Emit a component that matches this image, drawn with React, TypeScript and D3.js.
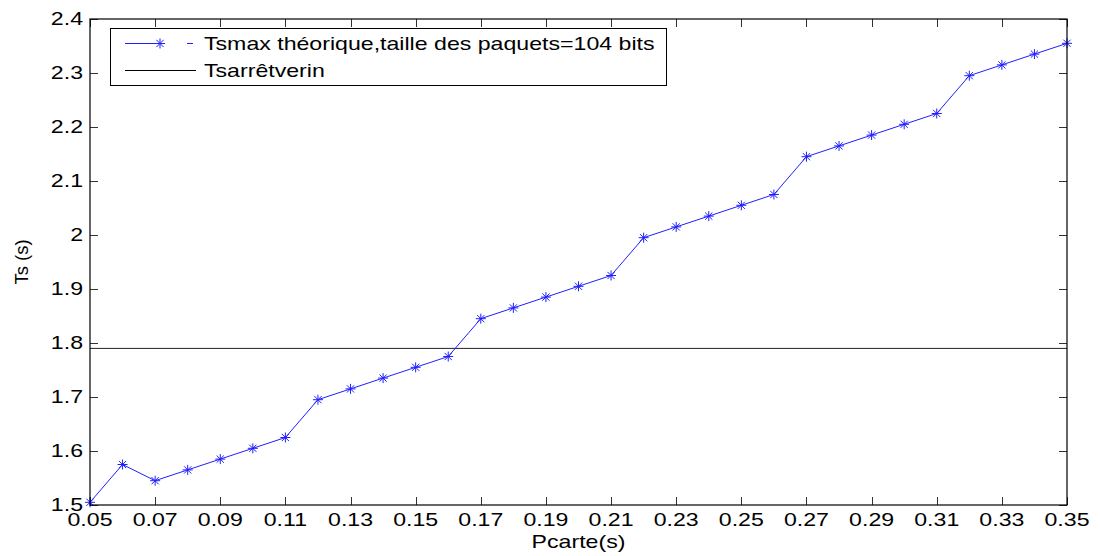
import { useRef, useEffect } from "react";
import * as d3 from "d3";

// Pcarte (s)
const pcarte = [
  0.05, 0.06, 0.07, 0.08, 0.09, 0.1, 0.11, 0.12, 0.13, 0.14, 0.15, 0.16, 0.17,
  0.18, 0.19, 0.2, 0.21, 0.22, 0.23, 0.24, 0.25, 0.26, 0.27, 0.28, 0.29, 0.3,
  0.31, 0.32, 0.33, 0.34, 0.35,
];
// Tsmax théorique (s)
const tsmax = [
  1.505, 1.575, 1.545, 1.565, 1.585, 1.605, 1.625, 1.695, 1.715, 1.735, 1.755,
  1.775, 1.845, 1.865, 1.885, 1.905, 1.925, 1.995, 2.015, 2.035, 2.055, 2.075,
  2.145, 2.165, 2.185, 2.205, 2.225, 2.295, 2.315, 2.335, 2.355,
];
const tsArretVerin = 1.79;

const xTicks = [
  0.05, 0.07, 0.09, 0.11, 0.13, 0.15, 0.17, 0.19, 0.21, 0.23, 0.25, 0.27, 0.29,
  0.31, 0.33, 0.35,
];
const yTicks = [1.5, 1.6, 1.7, 1.8, 1.9, 2.0, 2.1, 2.2, 2.3, 2.4];
const legendLabels = [
  "Tsmax théorique,taille des paquets=104 bits",
  "Tsarrêtverin",
];

export default function App() {
  const chartRef = useRef<HTMLDivElement>(null);

  useEffect(() => {
    if (!chartRef.current) return;
    d3.select(chartRef.current).selectAll("*").remove();

    const width = 1100;
    const height = 556;
    const margin = { top: 19, right: 33, bottom: 51, left: 90 };
    const font = "Arial, 'Liberation Sans', sans-serif";
    const fs = 18.5;
    const sx = 1.25; // text in the picture is stretched sideways
    const blue = "#1f1fff";
    const tickLen = 8;

    const svg = d3
      .select(chartRef.current)
      .append("svg")
      .attr("width", width)
      .attr("height", height)
      .style("position", "absolute")
      .style("left", "0px")
      .style("top", "0px")
      .style("background", "#fff");

    const x = d3
      .scaleLinear()
      .domain([0.05, 0.35])
      .range([margin.left, width - margin.right]);
    const y = d3
      .scaleLinear()
      .domain([1.5, 2.4])
      .range([height - margin.bottom, margin.top]);

    const x0 = x.range()[0];
    const x1 = x.range()[1];
    const y0 = y.range()[0];
    const y1 = y.range()[1];

    const addText = (
      g: d3.Selection<any, unknown, null, undefined>,
      tx: number,
      ty: number,
      str: string,
      anchor: string
    ) =>
      g
        .append("text")
        .attr("transform", `translate(${tx},${ty}) scale(${sx},1)`)
        .attr("text-anchor", anchor)
        .attr("font-family", font)
        .attr("font-size", fs)
        .attr("fill", "#000")
        .text(str);

    // ticks (inward, all four sides)
    const ticks = svg.append("g").attr("stroke", "#333").attr("stroke-width", 1);
    xTicks.forEach((t) => {
      const px = Math.round(x(t)) + 0.5;
      ticks.append("line").attr("x1", px).attr("x2", px).attr("y1", y0).attr("y2", y0 - tickLen);
      ticks.append("line").attr("x1", px).attr("x2", px).attr("y1", y1).attr("y2", y1 + tickLen);
    });
    yTicks.forEach((t) => {
      const py = Math.round(y(t)) + 0.5;
      ticks.append("line").attr("x1", x0).attr("x2", x0 + tickLen).attr("y1", py).attr("y2", py);
      ticks.append("line").attr("x1", x1).attr("x2", x1 - tickLen).attr("y1", py).attr("y2", py);
    });

    // tick labels
    const labels = svg.append("g");
    xTicks.forEach((t) => addText(labels, x(t), y0 + 21, d3.format(".2f")(t), "middle"));
    yTicks.forEach((t) =>
      addText(labels, x0 - 7, y(t) + 6, t === 2 ? "2" : d3.format(".1f")(t), "end")
    );

    // axis titles
    addText(svg, (x0 + x1) / 2, height - 8, "Pcarte(s)", "middle");
    svg
      .append("text")
      .attr("transform", `translate(28,${(y0 + y1) / 2}) rotate(-90)`)
      .attr("text-anchor", "middle")
      .attr("font-family", font)
      .attr("font-size", fs)
      .text("Ts (s)");

    // reference line Tsarrêtverin
    svg
      .append("line")
      .attr("x1", x0)
      .attr("x2", x1)
      .attr("y1", y(tsArretVerin))
      .attr("y2", y(tsArretVerin))
      .attr("stroke", "#222")
      .attr("stroke-width", 1);

    // Tsmax line
    const pts = pcarte.map((p, i) => [p, tsmax[i]] as [number, number]);
    const line = d3
      .line<[number, number]>()
      .x((d) => x(d[0]))
      .y((d) => y(d[1]));
    svg
      .append("path")
      .attr("d", line(pts))
      .attr("fill", "none")
      .attr("stroke", blue)
      .attr("stroke-width", 1);

    // asterisk markers
    const star = (g: d3.Selection<any, unknown, null, undefined>, cx: number, cy: number) => {
      const r = 5;
      const d = r * 0.72;
      g.append("path")
        .attr(
          "d",
          `M${cx - r},${cy}L${cx + r},${cy}M${cx},${cy - r}L${cx},${cy + r}` +
            `M${cx - d},${cy - d}L${cx + d},${cy + d}M${cx - d},${cy + d}L${cx + d},${cy - d}`
        )
        .attr("stroke", blue)
        .attr("stroke-width", 1)
        .attr("fill", "none");
    };
    const markers = svg.append("g");
    pts.forEach((d) => star(markers, x(d[0]), y(d[1])));

    // legend
    const lg = svg.append("g");
    lg.append("rect")
      .attr("x", 110.5)
      .attr("y", 28.5)
      .attr("width", 556)
      .attr("height", 57)
      .attr("fill", "#fff")
      .attr("stroke", "#000")
      .attr("stroke-width", 1);
    const r1 = 43.5;
    const r2 = 70.5;
    lg.append("line").attr("x1", 125).attr("x2", 164).attr("y1", r1).attr("y2", r1).attr("stroke", blue);
    lg.append("line").attr("x1", 187).attr("x2", 193).attr("y1", r1).attr("y2", r1).attr("stroke", blue);
    star(lg, 160, r1);
    lg.append("line").attr("x1", 125).attr("x2", 196).attr("y1", r2).attr("y2", r2).attr("stroke", "#000");
    addText(lg, 204, r1 + 6, legendLabels[0], "start");
    addText(lg, 204, r2 + 6, legendLabels[1], "start");

    // axes box
    svg
      .append("rect")
      .attr("x", x0)
      .attr("y", y1)
      .attr("width", x1 - x0)
      .attr("height", y0 - y1)
      .attr("fill", "none")
      .attr("stroke", "#000")
      .attr("stroke-width", 1.2);
  }, []);

  return (
    <div>
      <div ref={chartRef}></div>
    </div>
  );
}
